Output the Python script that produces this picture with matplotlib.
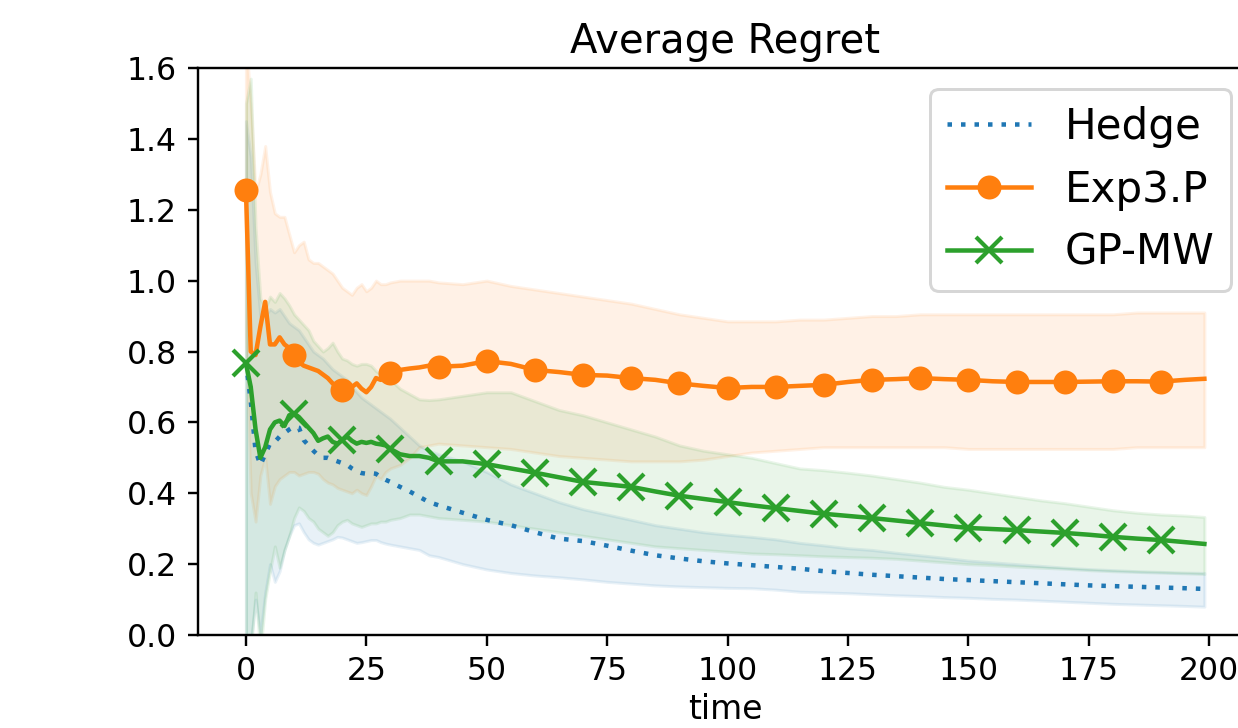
import matplotlib
matplotlib.use("Agg")
import matplotlib.pyplot as plt

# time grid (sampled)
time = [0, 1, 2, 3, 4, 5, 6, 7, 8, 9, 10, 11, 12, 13, 14, 15, 16, 17, 18, 19,
        20, 21, 22, 23, 24, 25, 26, 27, 28, 29, 30, 32, 34, 36, 38,
        40, 45, 50, 55, 60, 65, 70, 75, 80, 85, 90, 95, 100, 105, 110, 115,
        120, 125, 130, 135, 140, 145, 150, 155, 160, 165, 170, 175, 180, 185,
        190, 195, 199]

hedge_mean = [0.77, 0.66, 0.52, 0.48, 0.51, 0.54, 0.545, 0.56, 0.57, 0.58,
              0.588, 0.585, 0.55, 0.535, 0.52, 0.507, 0.50, 0.50, 0.495, 0.49,
              0.485, 0.48, 0.47, 0.462, 0.457, 0.455, 0.457, 0.455, 0.445, 0.438,
              0.432, 0.418, 0.405, 0.39, 0.375,
              0.366, 0.345, 0.325, 0.31, 0.29, 0.272, 0.265, 0.252, 0.238, 0.225,
              0.216, 0.208, 0.202, 0.197, 0.192, 0.187, 0.18, 0.175, 0.17, 0.166,
              0.162, 0.158, 0.155, 0.152, 0.149, 0.146, 0.143, 0.14, 0.138, 0.136,
              0.134, 0.132, 0.13]
hedge_upper = [1.45, 1.35, 1.05, 0.90, 0.90, 0.92, 0.91, 0.92, 0.90, 0.88,
               0.87, 0.86, 0.84, 0.82, 0.80, 0.79, 0.78, 0.765, 0.75, 0.74,
               0.73, 0.72, 0.70, 0.685, 0.67, 0.66, 0.65, 0.64, 0.63, 0.62,
               0.61, 0.585, 0.56, 0.535, 0.52,
               0.51, 0.49, 0.46, 0.425, 0.40, 0.375, 0.355, 0.34, 0.325, 0.31,
               0.30, 0.29, 0.283, 0.277, 0.27, 0.26, 0.253, 0.245, 0.24, 0.232,
               0.225, 0.218, 0.21, 0.205, 0.20, 0.195, 0.19, 0.186, 0.183, 0.18,
               0.178, 0.176, 0.175]
hedge_lower = [-0.05, -0.02, 0.10, 0.0, 0.12, 0.20, 0.15, 0.18, 0.24, 0.28,
               0.31, 0.315, 0.29, 0.27, 0.26, 0.255, 0.26, 0.265, 0.27, 0.277,
               0.275, 0.27, 0.265, 0.26, 0.262, 0.265, 0.268, 0.268, 0.262, 0.258,
               0.255, 0.25, 0.245, 0.24, 0.225,
               0.22, 0.20, 0.185, 0.175, 0.168, 0.163, 0.157, 0.15, 0.145, 0.14,
               0.137, 0.135, 0.133, 0.132, 0.128, 0.122, 0.12, 0.118, 0.115, 0.112,
               0.11, 0.107, 0.105, 0.102, 0.10, 0.097, 0.094, 0.091, 0.088, 0.086,
               0.084, 0.082, 0.08]

exp3_mean = [1.256, 0.80, 0.79, 0.87, 0.94, 0.82, 0.82, 0.84, 0.82, 0.81,
             0.79, 0.77, 0.76, 0.755, 0.75, 0.745, 0.735, 0.725, 0.71, 0.70,
             0.692, 0.69, 0.70, 0.71, 0.695, 0.685, 0.70, 0.725, 0.72, 0.73,
             0.74, 0.748, 0.752, 0.755, 0.76,
             0.757, 0.76, 0.773, 0.765, 0.748, 0.742, 0.734, 0.732, 0.725, 0.72,
             0.71, 0.703, 0.697, 0.70, 0.70, 0.703, 0.706, 0.714, 0.72, 0.722,
             0.725, 0.722, 0.72, 0.716, 0.714, 0.714, 0.714, 0.715, 0.716, 0.716,
             0.715, 0.72, 0.723]
exp3_upper = [1.68, 1.50, 1.25, 1.30, 1.38, 1.25, 1.19, 1.18, 1.18, 1.13,
              1.08, 1.10, 1.11, 1.06, 1.05, 1.05, 1.04, 1.03, 1.02, 1.00,
              0.98, 0.97, 0.96, 0.98, 0.99, 0.97, 0.98, 1.00, 0.99, 0.99,
              0.995, 1.00, 1.00, 1.00, 1.00,
              0.995, 0.99, 1.00, 0.985, 0.975, 0.965, 0.955, 0.945, 0.935, 0.92,
              0.905, 0.895, 0.885, 0.885, 0.885, 0.89, 0.89, 0.895, 0.90, 0.90,
              0.905, 0.905, 0.905, 0.905, 0.905, 0.905, 0.905, 0.905, 0.905, 0.91,
              0.91, 0.91, 0.91]
exp3_lower = [0.85, 0.40, 0.32, 0.45, 0.50, 0.37, 0.42, 0.44, 0.45, 0.46,
              0.46, 0.45, 0.455, 0.46, 0.46, 0.455, 0.44, 0.43, 0.425, 0.415,
              0.41, 0.405, 0.40, 0.41, 0.40, 0.395, 0.42, 0.45, 0.44, 0.46,
              0.47, 0.48, 0.50, 0.53, 0.535,
              0.54, 0.535, 0.53, 0.525, 0.515, 0.505, 0.50, 0.495, 0.49, 0.49,
              0.49, 0.495, 0.505, 0.515, 0.52, 0.525, 0.53, 0.53, 0.53, 0.53,
              0.53, 0.53, 0.525, 0.525, 0.525, 0.525, 0.525, 0.525, 0.525, 0.53,
              0.53, 0.53, 0.53]

gpmw_mean = [0.767, 0.70, 0.58, 0.50, 0.53, 0.58, 0.60, 0.605, 0.59, 0.62,
             0.625, 0.615, 0.60, 0.585, 0.57, 0.548, 0.555, 0.56, 0.545, 0.54,
             0.55, 0.56, 0.548, 0.54, 0.545, 0.542, 0.545, 0.54, 0.538, 0.535,
             0.525, 0.51, 0.505, 0.505, 0.50,
             0.49, 0.49, 0.482, 0.47, 0.458, 0.445, 0.432, 0.425, 0.418, 0.405,
             0.393, 0.384, 0.375, 0.366, 0.358, 0.35, 0.342, 0.336, 0.33, 0.323,
             0.316, 0.309, 0.302, 0.299, 0.296, 0.292, 0.288, 0.283, 0.277, 0.272,
             0.268, 0.262, 0.257]
gpmw_upper = [1.50, 1.57, 1.15, 0.95, 0.92, 0.955, 0.94, 0.965, 0.95, 0.93,
              0.905, 0.89, 0.875, 0.86, 0.83, 0.815, 0.80, 0.81, 0.825, 0.80,
              0.78, 0.775, 0.765, 0.76, 0.765, 0.765, 0.76, 0.745, 0.735, 0.73,
              0.72, 0.695, 0.68, 0.665, 0.663,
              0.665, 0.675, 0.685, 0.685, 0.66, 0.635, 0.62, 0.60, 0.58, 0.56,
              0.535, 0.52, 0.51, 0.50, 0.485, 0.47, 0.465, 0.458, 0.45, 0.44,
              0.43, 0.418, 0.41, 0.40, 0.39, 0.38, 0.372, 0.362, 0.352, 0.345,
              0.34, 0.337, 0.333]
gpmw_lower = [-0.05, -0.05, 0.12, -0.05, 0.10, 0.18, 0.25, 0.19, 0.24, 0.28,
              0.33, 0.36, 0.35, 0.33, 0.32, 0.30, 0.29, 0.28, 0.29, 0.31,
              0.32, 0.325, 0.315, 0.31, 0.305, 0.31, 0.315, 0.315, 0.32, 0.32,
              0.325, 0.33, 0.34, 0.34, 0.335,
              0.33, 0.325, 0.32, 0.31, 0.30, 0.29, 0.28, 0.27, 0.26, 0.25,
              0.245, 0.24, 0.235, 0.23, 0.228, 0.225, 0.222, 0.22, 0.218, 0.215,
              0.21, 0.205, 0.20, 0.197, 0.193, 0.19, 0.187, 0.183, 0.18, 0.178,
              0.176, 0.174, 0.172]

labels = ["Hedge", "Exp3.P", "GP-MW"]
xticks = [0, 25, 50, 75, 100, 125, 150, 175, 200]
yticks = [0.0, 0.2, 0.4, 0.6, 0.8, 1.0, 1.2, 1.4, 1.6]

DPI = 216
fig = plt.figure(figsize=(1238 / DPI, 728 / DPI), dpi=DPI)
ax = fig.add_axes([198 / 1238, 93 / 728, (1252.3 - 198) / 1238, 567 / 728])

blue, orange, green = "#1f77b4", "#ff7f0e", "#2ca02c"
marks = [i for i, t in enumerate(time) if t % 10 == 0 and t < 199]

ax.plot(time, hedge_mean, linestyle=(0, (1, 2.0)), color=blue, lw=1.5,
        label=labels[0])
ax.fill_between(time, hedge_lower, hedge_upper, color=blue, alpha=0.1)
ax.plot(time, exp3_mean, "-", color=orange, lw=1.5, marker="o", ms=7,
        markevery=marks, label=labels[1])
ax.fill_between(time, exp3_lower, exp3_upper, color=orange, alpha=0.1)
ax.plot(time, gpmw_mean, "-", color=green, lw=1.5, marker="x", ms=8.5, mew=1.4,
        markevery=marks, label=labels[2])
ax.fill_between(time, gpmw_lower, gpmw_upper, color=green, alpha=0.1)

ax.set_ylim(0, 1.6)
ax.set_xlim(-9.95, 208.95)
ax.set_xticks(xticks)
ax.set_yticks(yticks)
ax.set_yticklabels([f"{v:.1f}" for v in yticks])
ax.tick_params(labelsize=10.5)
ax.set_xlabel("time", fontsize=11, labelpad=2)
ax.set_title("Average Regret", fontsize=13.4, pad=5)
ax.legend(loc="upper right", fontsize=14)

fig.savefig("out.png", dpi=DPI)
